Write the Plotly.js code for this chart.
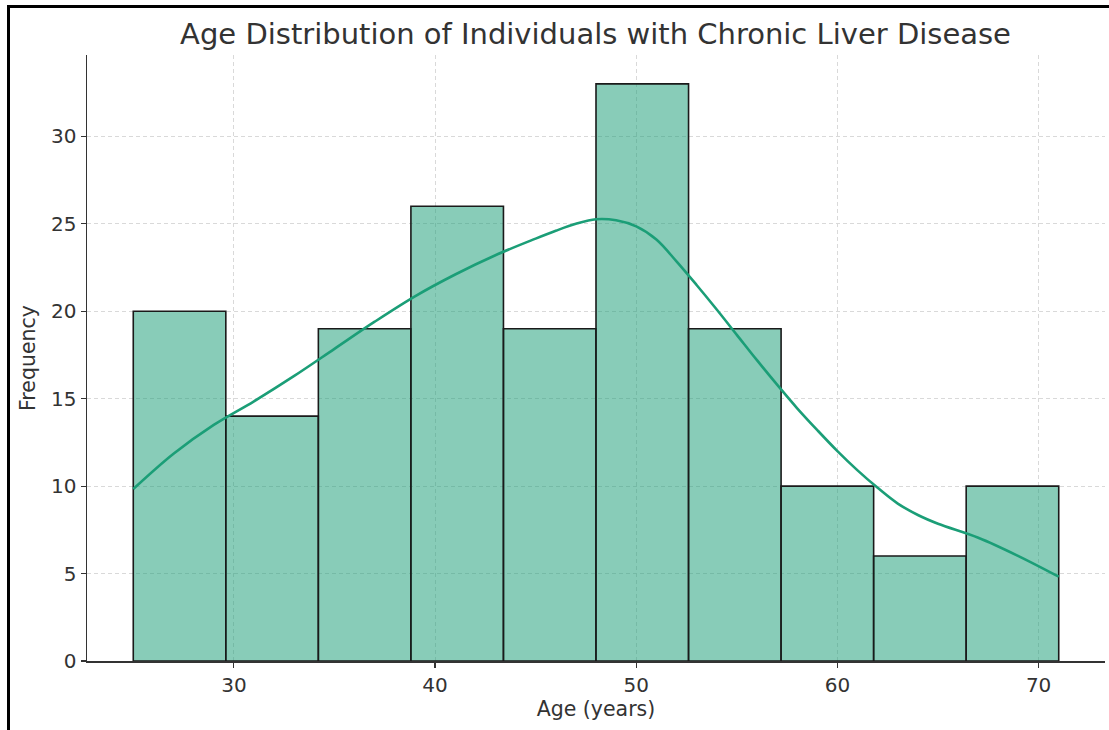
<!DOCTYPE html>
<html>
<head>
<meta charset="utf-8">
<script src="https://cdn.plot.ly/plotly-3.0.1.min.js"></script>
<style>
  html, body { margin: 0; padding: 0; background: #fff; }
  #chart { width: 1109px; height: 730px; position: relative; }
  #frame { position: absolute; left: 7px; top: 5px; width: 1102px; height: 725px;
           border-top: 3px solid #000; border-left: 3px solid #000; box-sizing: border-box; pointer-events: none; }
</style>
</head>
<body>
<div id="chart"></div>
<div id="frame"></div>
<script>
// Histogram bin edges (years) and counts
const binEdges = [25, 29.6, 34.2, 38.8, 43.4, 48, 52.6, 57.2, 61.8, 66.4, 71];
const counts = [20, 14, 19, 26, 19, 33, 19, 10, 6, 10];

// KDE curve (scaled to counts)
const kdeX = [25, 27, 29, 31, 33, 35, 37, 39, 41, 43, 45, 46, 47, 48, 49, 50, 51, 52, 53, 54, 55, 56, 57, 58, 59, 60, 61, 62, 63, 64, 65, 67, 69, 71];
const kdeY = [9.83, 11.85, 13.5, 14.85, 16.3, 17.85, 19.4, 20.85, 22.1, 23.2, 24.15, 24.6, 25.0, 25.26, 25.2, 24.85, 24.1, 22.85, 21.5, 20.1, 18.65, 17.2, 15.8, 14.45, 13.2, 12.0, 10.9, 9.9, 9.0, 8.35, 7.85, 7.05, 6.0, 4.82];

const xTicks = [30, 40, 50, 60, 70];
const yTicks = [0, 5, 10, 15, 20, 25, 30];

const centers = [], widths = [];
for (let i = 0; i < counts.length; i++) {
  centers.push((binEdges[i] + binEdges[i + 1]) / 2);
  widths.push(binEdges[i + 1] - binEdges[i]);
}

const font = "DejaVu Sans, sans-serif";
const textColor = "#333333";

const traces = [
  {
    type: "bar", x: centers, y: counts, width: widths,
    marker: { color: "rgba(27,158,119,0.52)", line: { color: "#1a1a1a", width: 1.6 } },
    hoverinfo: "skip", showlegend: false
  },
  {
    type: "scatter", mode: "lines", x: kdeX, y: kdeY,
    line: { color: "#1b9e77", width: 2.6, shape: "spline", smoothing: 1.0 },
    hoverinfo: "skip", showlegend: false
  }
];

const layout = {
  width: 1109, height: 730,
  margin: { l: 87, r: 4, t: 55, b: 69, pad: 0 },
  paper_bgcolor: "#fff", plot_bgcolor: "#fff",
  bargap: 0,
  font: { family: font, color: textColor, size: 20 },
  title: { text: "Age Distribution of Individuals with Chronic Liver Disease",
           font: { family: font, size: 29, color: textColor },
           x: 0.537, xanchor: "center", y: 0.954, yanchor: "middle" },
  xaxis: {
    range: [22.7, 73.3], tickvals: xTicks, ticktext: xTicks.map(String),
    showline: true, linecolor: "#333", linewidth: 1.5,
    ticks: "outside", ticklen: 5, tickwidth: 1.2, tickcolor: "#333",
    showgrid: true, gridcolor: "#d9d9d9", griddash: "4px,3px", gridwidth: 1,
    zeroline: false, tickfont: { size: 20, color: textColor },
    title: { text: "Age (years)", font: { size: 20.5, color: textColor }, standoff: 6 },
    layer: "above traces"
  },
  yaxis: {
    range: [0, 34.65], tickvals: yTicks, ticktext: yTicks.map(String),
    showline: true, linecolor: "#333", linewidth: 1.5,
    ticks: "outside", ticklen: 5, tickwidth: 1.2, tickcolor: "#333",
    showgrid: true, gridcolor: "#d9d9d9", griddash: "4px,3px", gridwidth: 1,
    zeroline: false, tickfont: { size: 20, color: textColor },
    title: { text: "Frequency", font: { size: 20.5, color: textColor }, standoff: 10 },
    layer: "above traces"
  }
};

Plotly.newPlot("chart", traces, layout, { displayModeBar: false, staticPlot: true });
</script>
</body>
</html>
